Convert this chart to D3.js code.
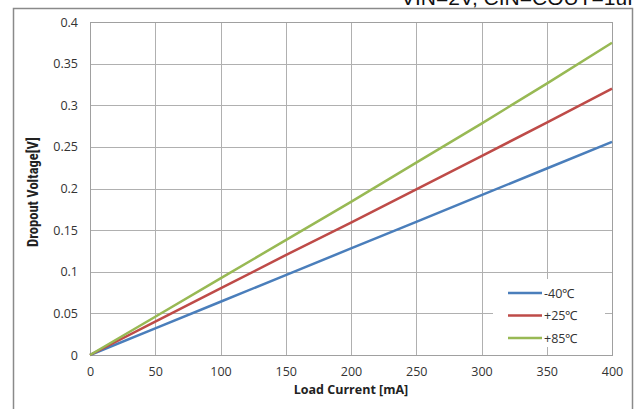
<!DOCTYPE html>
<html><head><meta charset="utf-8">
<script src="https://cdn.jsdelivr.net/npm/d3@7"></script>
<style>body{margin:0;background:#fff;}svg{display:block;}</style>
</head><body>
<svg id="c" width="640" height="409"></svg>
<script>
const loadCurrent = [0, 50, 100, 150, 200, 250, 300, 350, 400];
const vMinus40 = [0, 0.032, 0.064, 0.096, 0.128, 0.160, 0.192, 0.224, 0.256];
const vPlus25  = [0, 0.040, 0.080, 0.120, 0.159, 0.199, 0.239, 0.279, 0.320];
const vPlus85  = [0, 0.046, 0.092, 0.138, 0.184, 0.231, 0.278, 0.326, 0.375];
const seriesNames = ["-40\u2103", "+25\u2103", "+85\u2103"];
const seriesColors = ["#4a7ebb", "#be4b48", "#98b954"];
const xTicks = [0, 50, 100, 150, 200, 250, 300, 350, 400];
const yTicks = [0, 0.05, 0.1, 0.15, 0.2, 0.25, 0.3, 0.35, 0.4];
const headerText = "VIN=2V, CIN=COUT=1uF";

const svg = d3.select("#c");
const L = 90, R = 612, T = 22, B = 355;
const x = d3.scaleLinear().domain([0, 400]).range([L, R]);
const y = d3.scaleLinear().domain([0, 0.4]).range([B, T]);

// header text (clipped at top, as in the source image)
svg.append("text").attr("x", 640).attr("y", 5).attr("text-anchor", "end")
  .attr("font-family", "Liberation Sans, Arial, sans-serif").attr("font-size", 21)
  .attr("fill", "#111").text(headerText);

// outer frame
svg.append("rect").attr("x", 13.5).attr("y", 8.5).attr("width", 619).attr("height", 420)
  .attr("fill", "#fff").attr("stroke", "#8a8a8a").attr("stroke-width", 1.5);

// grid
const g = svg.append("g");
g.selectAll(".hg").data(yTicks).join("line")
  .attr("x1", L).attr("x2", R).attr("y1", d => Math.round(y(d)) + 0.5).attr("y2", d => Math.round(y(d)) + 0.5)
  .attr("stroke", "#b0b0b0").attr("stroke-width", 1);
g.selectAll(".vg").data(xTicks).join("line")
  .attr("y1", T).attr("y2", B).attr("x1", d => Math.round(x(d)) + 0.5).attr("x2", d => Math.round(x(d)) + 0.5)
  .attr("stroke", "#b0b0b0").attr("stroke-width", 1);
svg.append("rect").attr("x", L + 0.5).attr("y", T + 0.5).attr("width", R - L).attr("height", B - T)
  .attr("fill", "none").attr("stroke", "#a0a0a0");

// axes labels via d3 axes
const xAxis = svg.append("g").attr("transform", `translate(0,${B})`)
  .call(d3.axisBottom(x).tickValues(xTicks).tickSize(0).tickPadding(12).tickFormat(d3.format("d")));
const yAxis = svg.append("g").attr("transform", `translate(${L},0)`)
  .call(d3.axisLeft(y).tickValues(yTicks).tickSize(0).tickPadding(12).tickFormat(d => d === 0 ? "0" : String(+d.toFixed(2))));
[xAxis, yAxis].forEach(a => {
  a.select(".domain").remove();
  a.selectAll("text").attr("font-family", "Open Sans, sans-serif").attr("font-size", 12.5).attr("fill", "#333");
});

// lines
const allSeries = [vMinus40, vPlus25, vPlus85];
const line = d3.line().x((d, i) => x(loadCurrent[i])).y(d => y(d));
allSeries.forEach((s, k) => {
  svg.append("path").datum(s).attr("d", line).attr("fill", "none")
    .attr("stroke", seriesColors[k]).attr("stroke-width", 2.5);
});

// legend
svg.append("rect").attr("x", 493).attr("y", 279).attr("width", 112).attr("height", 68).attr("fill", "#fff");
seriesNames.forEach((n, k) => {
  const ly = 293 + k * 22.5;
  svg.append("line").attr("x1", 508).attr("x2", 542).attr("y1", ly).attr("y2", ly)
    .attr("stroke", seriesColors[k]).attr("stroke-width", 2.5);
  svg.append("text").attr("x", 544).attr("y", ly + 4.5).attr("font-family", "Open Sans, sans-serif")
    .attr("font-size", 12.5).attr("fill", "#333").text(n);
});

// axis titles
svg.append("text").attr("x", (L + R) / 2).attr("y", 394).attr("text-anchor", "middle")
  .attr("font-family", "Open Sans, sans-serif").attr("font-weight", "bold").attr("font-size", 12.5)
  .attr("fill", "#222").text("Load Current [mA]");
svg.append("text").attr("transform", "translate(38,192) rotate(-90)").attr("text-anchor", "middle")
  .attr("font-family", "Liberation Sans Narrow, Roboto Condensed, sans-serif").attr("font-weight", "bold").attr("font-size", 14.5)
  .attr("fill", "#222").text("Dropout Voltage[V]");
</script>
</body></html>
